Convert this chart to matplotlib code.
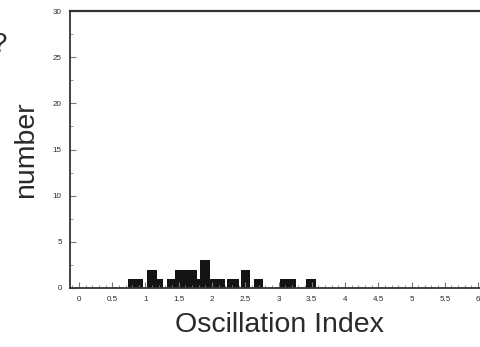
import matplotlib
matplotlib.use("Agg")
import matplotlib.pyplot as plt
from matplotlib.ticker import MultipleLocator, FuncFormatter

# Histogram (bin edges and counts)
bin_edges = [0.74, 0.97, 1.03, 1.17, 1.27, 1.33, 1.44, 1.77, 1.82, 1.97, 2.20,
             2.22, 2.40, 2.44, 2.57, 2.63, 2.77, 3.02, 3.27, 3.42, 3.56]
counts = [1, 0, 2, 1, 0, 1, 2, 1, 3, 1, 0, 1, 0, 2, 0, 1, 0, 1, 0, 1]

x_ticks = [0, 0.5, 1, 1.5, 2, 2.5, 3, 3.5, 4, 4.5, 5, 5.5, 6]
y_ticks = [0, 5, 10, 15, 20, 25, 30]

plt.rcParams['font.family'] = ['Liberation Sans', 'DejaVu Sans']

W, H = 480, 347
fig = plt.figure(figsize=(W / 100, H / 100), dpi=100)
left_px, right_px, top_px, bot_px = 70, 488, 11, 288
ax = fig.add_axes([left_px / W, (H - bot_px) / H,
                   (right_px - left_px) / W, (bot_px - top_px) / H])

ax.stairs(counts, bin_edges, fill=True, color='#141414', linewidth=0)

ax.set_xlim(-0.135, 6.15)
ax.set_ylim(0, 30)

ax.set_xticks(x_ticks)
ax.set_yticks(y_ticks)
ax.xaxis.set_minor_locator(MultipleLocator(0.1))
ax.yaxis.set_minor_locator(MultipleLocator(2.5))
ax.xaxis.set_major_formatter(FuncFormatter(lambda v, p: f"{v:g}"))

ax.tick_params(axis='both', which='major', direction='in', length=4, width=0.8,
               color='#777777', labelsize=5.8, labelcolor='#2a2a2a', pad=6)
ax.tick_params(axis='both', which='minor', direction='in', length=2, width=0.6,
               color='#888888')
ax.tick_params(top=False, right=False, which='both')

for side in ['left', 'bottom', 'top', 'right']:
    ax.spines[side].set_color('#333333')
    ax.spines[side].set_linewidth(1.3)
ax.spines['top'].set_linewidth(1.6)

ax.set_xlabel('Oscillation Index', fontsize=20.5, color='#2a2a2a', labelpad=6)
ax.set_ylabel('number', fontsize=20.5, color='#2a2a2a', labelpad=10)

fig.text(-8 / W, 1 - 45 / H, '?', fontsize=20, color='#2a2a2a',
         ha='left', va='center')

fig.savefig('out.png', dpi=100)
